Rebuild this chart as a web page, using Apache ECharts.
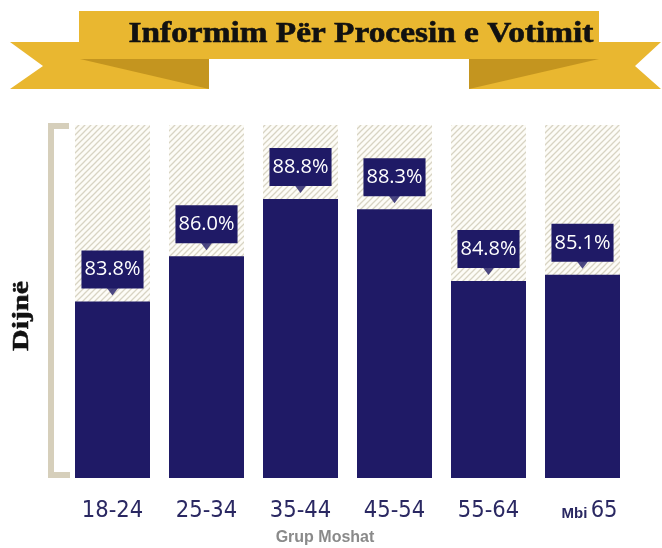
<!DOCTYPE html>
<html>
<head>
<meta charset="utf-8">
<script src="https://cdn.jsdelivr.net/npm/echarts@6/dist/echarts.min.js"></script>
<style>
html,body{margin:0;padding:0;background:#fff;}
#chart{width:662px;height:548px;}
</style>
</head>
<body>
<div id="chart"></div>
<script>
// ---- data ----
const categories = ['18-24', '25-34', '35-44', '45-54', '55-64', 'Mbi 65'];
const values = [83.8, 86.0, 88.8, 88.3, 84.8, 85.1];
const titleText = 'Informim Për Procesin e Votimit';
const yName = 'Dijnë';
const xName = 'Grup Moshat';

// ---- styles ----
const NAVY = '#1f1a66';
const GOLD = '#e9b730';
const GOLD_DARK = '#c4951f';
const BEIGE = '#d6cfbb';

function hatch() {
  const p = 6;
  const c = document.createElement('canvas');
  c.width = p; c.height = p;
  const g = c.getContext('2d');
  g.fillStyle = '#fdfcf7';
  g.fillRect(0, 0, p, p);
  g.strokeStyle = '#d8d4c3';
  g.lineWidth = 1.3;
  g.beginPath();
  g.moveTo(-1, p + 1); g.lineTo(p + 1, -1);
  g.moveTo(-1, 1); g.lineTo(1, -1);
  g.moveTo(p - 1, p + 1); g.lineTo(p + 1, p - 1);
  g.stroke();
  return c;
}

const chart = echarts.init(document.getElementById('chart'), null, {renderer: 'canvas'});

const option = {
  animation: false,
  backgroundColor: '#ffffff',
  grid: {left: 65.5, right: 32.5, top: 125, bottom: 70},
  xAxis: {
    type: 'category',
    data: categories,
    axisLine: {show: false},
    axisTick: {show: false},
    axisLabel: {
      margin: 21,
      formatter: function (v) {
        if (v.indexOf('Mbi ') === 0) {
          return '{s|Mbi} {b|' + v.slice(4) + '}';
        }
        return '{b|' + v + '}';
      },
      rich: {
        b: {fontFamily: '"Liberation Sans Narrow", "DejaVu Sans Condensed", "Open Sans", sans-serif', fontSize: 23.5, color: '#2a2862'},
        s: {fontFamily: '"Liberation Sans", Arial, sans-serif', fontWeight: 'bold', fontSize: 15, color: '#2a2862', padding: [5, 0, 0, 14]}
      }
    }
  },
  yAxis: {
    type: 'value',
    min: 75.2,
    max: 92.4,
    show: false
  },
  series: [
    {
      type: 'bar',
      data: values,
      barWidth: 75,
      showBackground: true,
      backgroundStyle: {color: {image: hatch(), repeat: 'repeat'}},
      itemStyle: {color: NAVY},
      label: {
        show: true,
        position: 'top',
        distance: 13,
        formatter: function (p) { return p.value.toFixed(1) + '%'; },
        color: '#ffffff',
        fontFamily: '"Open Sans", sans-serif',
        fontSize: 20,
        lineHeight: 24,
        backgroundColor: NAVY,
        padding: [7, 3, 7, 3]
      },
      z: 2
    },
    {
      type: 'scatter',
      data: values,
      symbol: 'triangle',
      symbolRotate: 180,
      symbolSize: [12, 8],
      symbolOffset: [0, -10],
      itemStyle: {color: NAVY},
      silent: true,
      z: 3
    }
  ],
  graphic: [
    // left ribbon tail
    {type: 'polygon', shape: {points: [[10, 42], [209, 42], [209, 89], [10, 89], [43, 66]]}, style: {fill: GOLD}, z: 1},
    {type: 'polygon', shape: {points: [[80, 59], [209, 59], [209, 89]]}, style: {fill: GOLD_DARK}, z: 2},
    // right ribbon tail
    {type: 'polygon', shape: {points: [[469, 42], [661, 42], [635, 66], [661, 89], [469, 89]]}, style: {fill: GOLD}, z: 1},
    {type: 'polygon', shape: {points: [[469, 59], [599, 59], [469, 89]]}, style: {fill: GOLD_DARK}, z: 2},
    // central band
    {type: 'rect', shape: {x: 79, y: 11, width: 520, height: 48}, style: {fill: GOLD}, z: 3},
    {
      type: 'text', x: 361, y: 35, scaleX: 1.15, z: 4,
      style: {text: titleText, font: 'bold 29px "Liberation Serif", "Times New Roman", serif', fill: '#111', align: 'center', verticalAlign: 'middle', stroke: '#111', lineWidth: 0.6}
    },
    // bracket
    {type: 'rect', shape: {x: 48, y: 123, width: 6, height: 355}, style: {fill: BEIGE}},
    {type: 'rect', shape: {x: 48, y: 123, width: 21, height: 6}, style: {fill: BEIGE}},
    {type: 'rect', shape: {x: 48, y: 472, width: 22, height: 6}, style: {fill: BEIGE}},
    // y label
    {
      type: 'text', x: 22, y: 316, rotation: Math.PI / 2, scaleX: 1.25,
      style: {text: yName, font: 'bold 24px "Liberation Serif", "Times New Roman", serif', fill: '#111', align: 'center', verticalAlign: 'middle', stroke: '#111', lineWidth: 0.5}
    },
    // x name
    {
      type: 'text', x: 325, y: 538,
      style: {text: xName, font: 'bold 16px "Liberation Sans", Arial, sans-serif', fill: '#8a8a8a', align: 'center', verticalAlign: 'middle'}
    }
  ]
};

chart.setOption(option);
</script>
</body>
</html>
